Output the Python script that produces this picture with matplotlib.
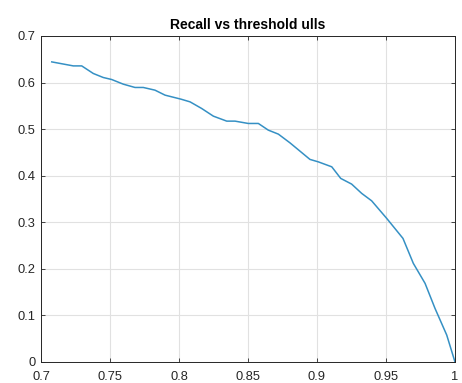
import numpy as np
import matplotlib.pyplot as plt

plt.rcParams['font.family'] = ['Liberation Sans', 'DejaVu Sans']

# threshold values and the recall at each one
threshold = [0.7078, 0.7234, 0.7295, 0.7379, 0.7451, 0.7512, 0.7596, 0.7681,
             0.7741, 0.7826, 0.7899, 0.8014, 0.8080, 0.8164, 0.8249, 0.8346,
             0.8406, 0.8502, 0.8575, 0.8647, 0.8720, 0.8804, 0.8949, 0.9009,
             0.9107, 0.9172, 0.9251, 0.9324, 0.9396, 0.9505, 0.9623, 0.9698,
             0.9783, 0.9855, 0.9940, 1.0]
recall = [0.6444, 0.6358, 0.6358, 0.6195, 0.6109, 0.6066, 0.5966, 0.5895,
          0.5895, 0.5837, 0.5730, 0.5644, 0.5586, 0.5444, 0.5279, 0.5172,
          0.5172, 0.5122, 0.5122, 0.4979, 0.4893, 0.4706, 0.4350, 0.4298,
          0.4191, 0.3942, 0.3820, 0.3620, 0.3461, 0.3084, 0.2654, 0.2118,
          0.1689, 0.1152, 0.0579, 0.0]

xticks = [0.7, 0.75, 0.8, 0.85, 0.9, 0.95, 1]
xticklabels = ['0.7', '0.75', '0.8', '0.85', '0.9', '0.95', '1']
yticks = [0, 0.1, 0.2, 0.3, 0.4, 0.5, 0.6, 0.7]
yticklabels = ['0', '0.1', '0.2', '0.3', '0.4', '0.5', '0.6', '0.7']

fig = plt.figure(figsize=(4.62, 3.83), dpi=100)
ax = fig.add_axes([41 / 462, 21 / 383, 414 / 462, 326 / 383])

ax.plot(threshold, recall, color='#3590c4', linewidth=1.1)

ax.set_xlim(0.7, 1)
ax.set_ylim(0, 0.7)
ax.set_xticks(xticks)
ax.set_xticklabels(xticklabels)
ax.set_yticks(yticks)
ax.set_yticklabels(yticklabels)

ax.grid(True, color='#e1e1e1', linewidth=0.8)
ax.set_axisbelow(True)
ax.tick_params(direction='in', top=True, right=True, length=3, width=0.6,
               colors='#262626', labelsize=9.3)
ax.tick_params(axis='x', pad=6.5)
ax.tick_params(axis='y', pad=4)
for s in ax.spines.values():
    s.set_color('#262626')
    s.set_linewidth(0.7)

ax.set_title('Recall vs threshold ulls', fontsize=10, fontweight='bold',
             color='black', pad=5)

fig.savefig('out.png', dpi=100)
